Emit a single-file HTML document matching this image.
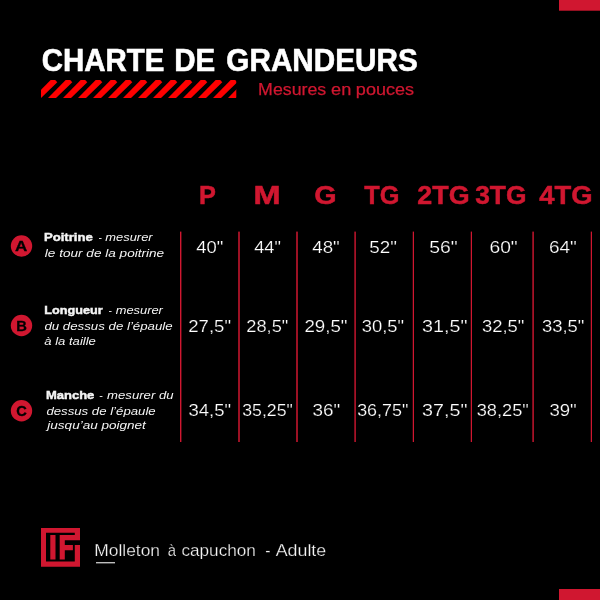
<!DOCTYPE html>
<html lang="fr">
<head>
<meta charset="utf-8">
<title>Charte de grandeurs</title>
<style>
html,body{margin:0;padding:0;background:#000;}
body{width:600px;height:600px;overflow:hidden;}
svg{display:block;}
text{font-family:"Liberation Sans",sans-serif;white-space:pre;}
.t{font-weight:bold;fill:#fff;font-size:32px;stroke:#fff;stroke-width:0.6px;}
.sub{fill:#d01730;font-size:15.8px;stroke:#d01730;stroke-width:0.25px;}
.h{font-weight:bold;fill:#d01730;font-size:25px;stroke:#d01730;stroke-width:0.5px;}
.v{fill:#fff;font-size:16.2px;stroke:#000;stroke-width:0.2px;}
.lb{fill:#f4f4f4;font-size:11.6px;}
.b{font-weight:bold;stroke:#f4f4f4;stroke-width:0.45px;}
.i{font-style:italic;}
.ct{font-weight:bold;fill:#000;font-size:15.3px;stroke:#000;stroke-width:0.3px;}
.ft{fill:#f4f4f4;font-size:16.6px;stroke:#000;stroke-width:0.25px;}
</style>
</head>
<body>
<svg width="600" height="600" viewBox="0 0 600 600">
<defs><clipPath id="bar"><rect x="41" y="80" width="195.3" height="18"/></clipPath></defs>
<rect x="0" y="0" width="600" height="600" fill="#000"/>
<g id="shapes">
<rect x="559" y="0" width="41" height="10.7" fill="#d01730"/>
<rect x="559" y="589" width="41" height="11" fill="#d01730"/>
<g clip-path="url(#bar)" fill="#ff0000"><polygon points="33.00,98.00 50.70,80.00 55.20,80.00 57.30,82.30 41.00,98.00"/><polygon points="48.00,98.00 65.70,80.00 70.20,80.00 72.30,82.30 56.00,98.00"/><polygon points="63.00,98.00 80.70,80.00 85.20,80.00 87.30,82.30 71.00,98.00"/><polygon points="78.00,98.00 95.70,80.00 100.20,80.00 102.30,82.30 86.00,98.00"/><polygon points="93.00,98.00 110.70,80.00 115.20,80.00 117.30,82.30 101.00,98.00"/><polygon points="108.00,98.00 125.70,80.00 130.20,80.00 132.30,82.30 116.00,98.00"/><polygon points="123.00,98.00 140.70,80.00 145.20,80.00 147.30,82.30 131.00,98.00"/><polygon points="138.00,98.00 155.70,80.00 160.20,80.00 162.30,82.30 146.00,98.00"/><polygon points="153.00,98.00 170.70,80.00 175.20,80.00 177.30,82.30 161.00,98.00"/><polygon points="168.00,98.00 185.70,80.00 190.20,80.00 192.30,82.30 176.00,98.00"/><polygon points="183.00,98.00 200.70,80.00 205.20,80.00 207.30,82.30 191.00,98.00"/><polygon points="198.00,98.00 215.70,80.00 220.20,80.00 222.30,82.30 206.00,98.00"/><polygon points="213.00,98.00 230.70,80.00 235.20,80.00 237.30,82.30 221.00,98.00"/><polygon points="228.00,98.00 245.70,80.00 250.20,80.00 252.30,82.30 236.00,98.00"/><polygon points="243.00,98.00 260.70,80.00 265.20,80.00 267.30,82.30 251.00,98.00"/></g>
<g fill="#d01730"><rect x="180.00" y="231.6" width="1.40" height="210.4"/><rect x="238.25" y="231.6" width="1.50" height="210.4"/><rect x="296.25" y="231.6" width="1.50" height="210.4"/><rect x="354.40" y="231.6" width="1.40" height="210.4"/><rect x="412.75" y="231.6" width="1.25" height="210.4"/><rect x="470.75" y="231.6" width="1.25" height="210.4"/><rect x="532.40" y="231.6" width="1.40" height="210.4"/><rect x="590.75" y="231.6" width="1.25" height="210.4"/></g>
<circle cx="21.5" cy="246" r="10.7" fill="#d01730"/>
<circle cx="21.5" cy="325.5" r="10.7" fill="#d01730"/>
<circle cx="21.5" cy="410.8" r="10.7" fill="#d01730"/>
<path fill="#d01730" d="M41.0,528.0h39.0v4.7h-39.0Z M41.0,528.0h5.0v38.8h-5.0Z M41.0,561.4h39.0v5.4h-39.0Z M74.8,528.0h5.2v12.3h-5.2Z M74.8,545.1h5.2v21.7h-5.2Z M50.3,535.0h5.2v24.5h-5.2Z M59.7,535.0h5.1v24.5h-5.1Z M59.7,535.0h20.3v5.3h-20.3Z M64.8,545.1h8.1v5.2h-8.1Z"/>
<rect x="96" y="562" width="19" height="1.4" fill="#bdbdbd"/>
</g>
<text id="title1" class="t" x="41.73" y="71.30" textLength="122.63" lengthAdjust="spacingAndGlyphs">CHARTE</text>
<text id="title2" class="t" x="174.22" y="71.30" textLength="41.02" lengthAdjust="spacingAndGlyphs">DE</text>
<text id="title3" class="t" x="226.37" y="71.30" textLength="191.41" lengthAdjust="spacingAndGlyphs">GRANDEURS</text>
<text id="sub1" class="sub" x="258.10" y="94.70" textLength="68.16" lengthAdjust="spacingAndGlyphs">Mesures</text>
<text id="sub2" class="sub" x="331.05" y="94.70" textLength="20.21" lengthAdjust="spacingAndGlyphs">en</text>
<text id="sub3" class="sub" x="355.89" y="94.70" textLength="58.14" lengthAdjust="spacingAndGlyphs">pouces</text>
<text id="h0" class="h" x="199.14" y="204.30" textLength="16.87" lengthAdjust="spacingAndGlyphs">P</text>
<text id="h1" class="h" x="253.63" y="204.30" textLength="27.07" lengthAdjust="spacingAndGlyphs">M</text>
<text id="h2" class="h" x="314.21" y="204.30" textLength="22.35" lengthAdjust="spacingAndGlyphs">G</text>
<text id="h3" class="h" x="364.38" y="204.30" textLength="35.11" lengthAdjust="spacingAndGlyphs">TG</text>
<text id="h4" class="h" x="417.37" y="204.30" textLength="52.25" lengthAdjust="spacingAndGlyphs">2TG</text>
<text id="h5" class="h" x="475.21" y="204.30" textLength="51.27" lengthAdjust="spacingAndGlyphs">3TG</text>
<text id="h6" class="h" x="539.16" y="204.30" textLength="53.30" lengthAdjust="spacingAndGlyphs">4TG</text>
<text id="v0_0" class="v" x="196.32" y="252.80" textLength="27.04" lengthAdjust="spacingAndGlyphs">40"</text>
<text id="v0_1" class="v" x="254.22" y="252.80" textLength="26.63" lengthAdjust="spacingAndGlyphs">44"</text>
<text id="v0_2" class="v" x="312.26" y="252.80" textLength="27.51" lengthAdjust="spacingAndGlyphs">48"</text>
<text id="v0_3" class="v" x="369.28" y="252.80" textLength="27.67" lengthAdjust="spacingAndGlyphs">52"</text>
<text id="v0_4" class="v" x="429.19" y="252.80" textLength="28.45" lengthAdjust="spacingAndGlyphs">56"</text>
<text id="v0_5" class="v" x="489.47" y="252.80" textLength="28.21" lengthAdjust="spacingAndGlyphs">60"</text>
<text id="v0_6" class="v" x="548.93" y="252.80" textLength="27.93" lengthAdjust="spacingAndGlyphs">64"</text>
<text id="v1_0" class="v" x="188.29" y="331.60" textLength="42.71" lengthAdjust="spacingAndGlyphs">27,5"</text>
<text id="v1_1" class="v" x="246.30" y="331.60" textLength="41.98" lengthAdjust="spacingAndGlyphs">28,5"</text>
<text id="v1_2" class="v" x="304.40" y="331.60" textLength="43.05" lengthAdjust="spacingAndGlyphs">29,5"</text>
<text id="v1_3" class="v" x="361.83" y="331.60" textLength="42.26" lengthAdjust="spacingAndGlyphs">30,5"</text>
<text id="v1_4" class="v" x="422.11" y="331.60" textLength="45.34" lengthAdjust="spacingAndGlyphs">31,5"</text>
<text id="v1_5" class="v" x="481.92" y="331.60" textLength="42.42" lengthAdjust="spacingAndGlyphs">32,5"</text>
<text id="v1_6" class="v" x="541.92" y="331.60" textLength="42.42" lengthAdjust="spacingAndGlyphs">33,5"</text>
<text id="v2_0" class="v" x="188.44" y="415.60" textLength="42.59" lengthAdjust="spacingAndGlyphs">34,5"</text>
<text id="v2_1" class="v" x="242.21" y="415.60" textLength="50.59" lengthAdjust="spacingAndGlyphs">35,25"</text>
<text id="v2_2" class="v" x="312.42" y="415.60" textLength="27.70" lengthAdjust="spacingAndGlyphs">36"</text>
<text id="v2_3" class="v" x="357.17" y="415.60" textLength="51.08" lengthAdjust="spacingAndGlyphs">36,75"</text>
<text id="v2_4" class="v" x="422.11" y="415.60" textLength="45.34" lengthAdjust="spacingAndGlyphs">37,5"</text>
<text id="v2_5" class="v" x="476.69" y="415.60" textLength="52.10" lengthAdjust="spacingAndGlyphs">38,25"</text>
<text id="v2_6" class="v" x="549.44" y="415.60" textLength="27.30" lengthAdjust="spacingAndGlyphs">39"</text>
<text id="a1b" class="lb b" x="44.03" y="240.60" textLength="48.72" lengthAdjust="spacingAndGlyphs">Poitrine</text>
<text id="a1h" class="lb" x="98.38" y="240.60" textLength="3.50" lengthAdjust="spacingAndGlyphs">-</text>
<text id="a1i" class="lb i" x="105.37" y="240.60" textLength="47.23" lengthAdjust="spacingAndGlyphs">mesurer</text>
<text id="a2" class="lb i" x="44.85" y="256.60" textLength="119.29" lengthAdjust="spacingAndGlyphs">le tour de la poitrine</text>
<text id="b1b" class="lb b" x="44.35" y="313.60" textLength="58.21" lengthAdjust="spacingAndGlyphs">Longueur</text>
<text id="b1h" class="lb" x="108.38" y="313.60" textLength="3.50" lengthAdjust="spacingAndGlyphs">-</text>
<text id="b1i" class="lb i" x="115.67" y="313.60" textLength="47.24" lengthAdjust="spacingAndGlyphs">mesurer</text>
<text id="b2" class="lb i" x="44.46" y="329.60" textLength="128.20" lengthAdjust="spacingAndGlyphs">du dessus de l’épaule</text>
<text id="b3" class="lb i" x="44.28" y="345.20" textLength="51.62" lengthAdjust="spacingAndGlyphs">à la taille</text>
<text id="c1b" class="lb b" x="45.95" y="398.60" textLength="48.35" lengthAdjust="spacingAndGlyphs">Manche</text>
<text id="c1h" class="lb" x="99.18" y="398.60" textLength="3.66" lengthAdjust="spacingAndGlyphs">-</text>
<text id="c1i" class="lb i" x="107.11" y="398.60" textLength="66.40" lengthAdjust="spacingAndGlyphs">mesurer du</text>
<text id="c2" class="lb i" x="46.40" y="414.50" textLength="109.27" lengthAdjust="spacingAndGlyphs">dessus de l’épaule</text>
<text id="c3" class="lb i" x="47.33" y="429.20" textLength="98.55" lengthAdjust="spacingAndGlyphs">jusqu’au poignet</text>
<text id="ca" class="ct" x="14.97" y="250.70" textLength="12.32" lengthAdjust="spacingAndGlyphs">A</text>
<text id="cb" class="ct" x="16.18" y="330.70" textLength="10.66" lengthAdjust="spacingAndGlyphs">B</text>
<text id="cc" class="ct" x="16.37" y="415.80" textLength="10.60" lengthAdjust="spacingAndGlyphs">C</text>
<text id="f1a" class="ft" x="94.29" y="556.00" textLength="65.75" lengthAdjust="spacingAndGlyphs">Molleton</text>
<text id="f1b" class="ft" x="167.72" y="556.00" textLength="8.28" lengthAdjust="spacingAndGlyphs">à</text>
<text id="f1c" class="ft" x="181.45" y="556.00" textLength="74.42" lengthAdjust="spacingAndGlyphs">capuchon</text>
<text id="f2" class="ft" x="265.21" y="556.00" textLength="5.27" lengthAdjust="spacingAndGlyphs">-</text>
<text id="f3" class="ft" x="275.71" y="556.00" textLength="50.50" lengthAdjust="spacingAndGlyphs">Adulte</text>
</svg>
</body>
</html>
